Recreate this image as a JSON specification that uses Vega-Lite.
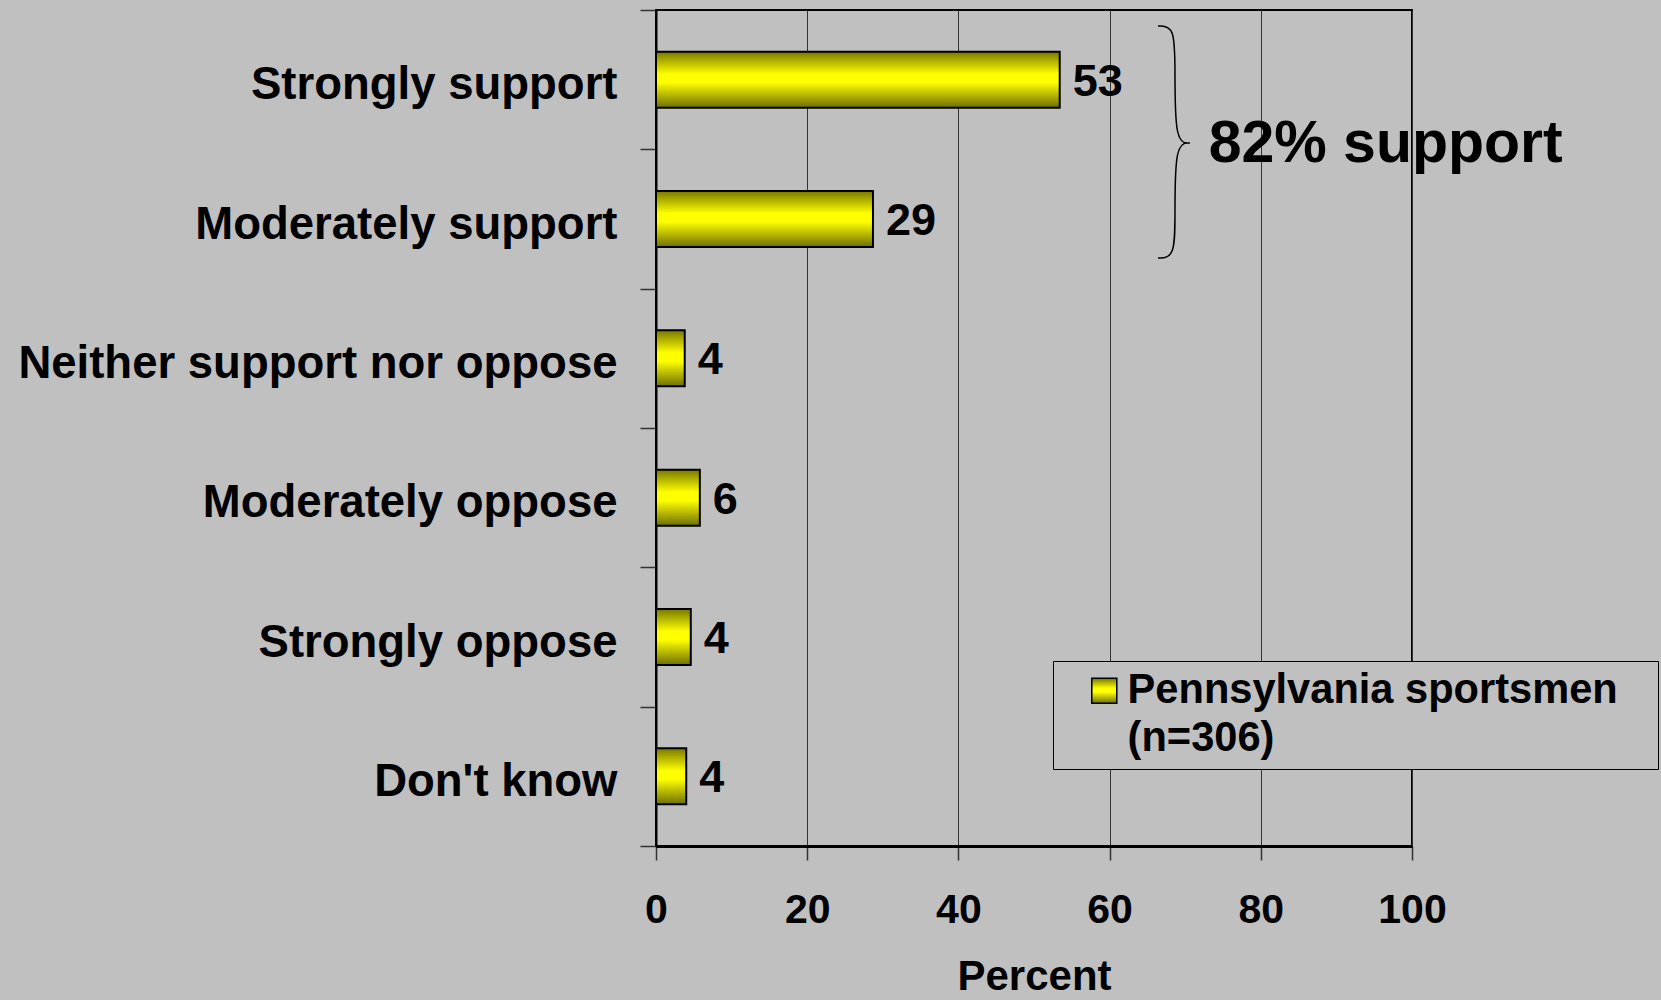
{
  "$schema": "https://vega.github.io/schema/vega-lite/v6.json",
  "autosize": {"type": "none"},
  "padding": {"left": 656, "top": 10, "right": 249, "bottom": 154},
  "width": 756,
  "height": 836,
  "background": "#c0c0c0",
  "config": {
    "view": {"stroke": "black", "strokeWidth": 2},
    "font": "Liberation Sans",
    "style": {"guide-label": {"lineHeight": 48}},
    "axis": {"labelFont": "Liberation Sans", "titleFont": "Liberation Sans", "labelColor": "black", "titleColor": "black"}
  },
  "datasets": {
    "bars": [
      {"response": "Strongly support", "pct": 53.4, "label": "53", "series": "Pennsylvania sportsmen"},
      {"response": "Moderately support", "pct": 28.7, "label": "29", "series": "Pennsylvania sportsmen"},
      {"response": "Neither support nor oppose", "pct": 3.8, "label": "4", "series": "Pennsylvania sportsmen"},
      {"response": "Moderately oppose", "pct": 5.8, "label": "6", "series": "Pennsylvania sportsmen"},
      {"response": "Strongly oppose", "pct": 4.6, "label": "4", "series": "Pennsylvania sportsmen"},
      {"response": "Don't know", "pct": 4.0, "label": "4", "series": "Pennsylvania sportsmen"}
    ],
    "brace": [
      {"i": 1, "x": 66.4, "pos": 0.115},
      {"i": 2, "x": 68.65, "pos": 0.115},
      {"i": 3, "x": 68.65, "pos": 0.431},
      {"i": 4, "x": 68.65, "pos": 0.955},
      {"i": 5, "x": 70.63, "pos": 0.955},
      {"i": 6, "x": 70.63, "pos": 0.955},
      {"i": 7, "x": 70.63, "pos": 0.955},
      {"i": 8, "x": 68.65, "pos": 0.955},
      {"i": 9, "x": 68.65, "pos": 1.471},
      {"i": 10, "x": 68.65, "pos": 1.78},
      {"i": 11, "x": 66.4, "pos": 1.78}
    ],
    "note": [
      {"x": 73.1, "pos": 1.089, "text": "82% support"}
    ]
  },
  "resolve": {"scale": {"y": "independent"}},
  "layer": [
    {
      "data": {"name": "bars"},
      "mark": {"type": "bar", "size": 56, "strokeWidth": 2,
        "fill": {"gradient": "linear", "x1": 0, "y1": 0, "x2": 0, "y2": 1,
          "stops": [{"offset": 0, "color": "#787800"}, {"offset": 0.4, "color": "#ffff00"}, {"offset": 0.55, "color": "#ffff00"}, {"offset": 1, "color": "#6e6e00"}]}},
      "encoding": {
        "y": {
          "field": "response", "type": "nominal",
          "sort": ["Strongly support", "Moderately support", "Neither support nor oppose", "Moderately oppose", "Strongly oppose", "Don't know"],
          "scale": {"paddingInner": 0, "paddingOuter": 0},
          "axis": {
            "title": null, "tickBand": "extent", "tickSize": 16, "tickColor": "#333333", "tickWidth": 1.5,
            "domainColor": "black", "domainWidth": 2,
            "labelFontSize": 45.5, "labelFontWeight": "bold", "labelPadding": 23, "labelLimit": 0, "labelOffset": 5
          }
        },
        "x": {
          "field": "pct", "type": "quantitative",
          "scale": {"domain": [0, 100], "nice": false},
          "axis": {
            "values": [0, 20, 40, 60, 80, 100], "grid": true, "gridColor": "#333333", "gridWidth": 1,
            "tickSize": 14, "tickColor": "#333333", "tickWidth": 1.5,
            "domainColor": "black", "domainWidth": 3,
            "labelFontSize": 41, "labelFontWeight": "bold", "labelPadding": 30, "labelFlush": false,
            "title": "Percent", "titleFontSize": 42, "titleFontWeight": "bold", "titlePadding": 26
          }
        },
        "stroke": {
          "field": "series", "type": "nominal",
          "scale": {"range": ["black"]},
          "legend": {
            "orient": "none", "legendX": 397, "legendY": 651,
            "title": null, "padding": 9, "symbolOffset": 21.5, "labelOffset": 2.5,
            "symbolType": "square", "symbolSize": 625, "symbolStrokeWidth": 1.5,
            "labelFontSize": 41.6, "labelFontWeight": "bold", "labelFont": "Liberation Sans", "labelColor": "black", "labelLimit": 0,
            "labelExpr": "['Pennsylvania sportsmen\u2800', '(n=306)']",
            "strokeColor": "black", "fillColor": "#c0c0c0"
          }
        }
      }
    },
    {
      "data": {"name": "bars"},
      "mark": {"type": "text", "align": "left", "baseline": "middle", "dx": 13, "dy": 2, "fontSize": 45, "fontWeight": "bold", "color": "black"},
      "encoding": {
        "y": {
          "field": "response", "type": "nominal",
          "sort": ["Strongly support", "Moderately support", "Neither support nor oppose", "Moderately oppose", "Strongly oppose", "Don't know"],
          "scale": {"paddingInner": 0, "paddingOuter": 0},
          "axis": null
        },
        "x": {"field": "pct", "type": "quantitative"},
        "text": {"field": "label"}
      }
    },
    {
      "data": {"name": "brace"},
      "mark": {"type": "line", "interpolate": "basis", "stroke": "black", "strokeWidth": 1.5},
      "encoding": {
        "x": {"field": "x", "type": "quantitative"},
        "y": {"field": "pos", "type": "quantitative", "scale": {"domain": [0, 6], "reverse": true, "nice": false}, "axis": null},
        "order": {"field": "i"}
      }
    },
    {
      "data": {"name": "note"},
      "mark": {"type": "text", "align": "left", "baseline": "alphabetic", "fontSize": 59, "fontWeight": "bold", "color": "black"},
      "encoding": {
        "x": {"field": "x", "type": "quantitative"},
        "y": {"field": "pos", "type": "quantitative", "scale": {"domain": [0, 6], "reverse": true, "nice": false}, "axis": null},
        "text": {"field": "text"}
      }
    }
  ]
}
